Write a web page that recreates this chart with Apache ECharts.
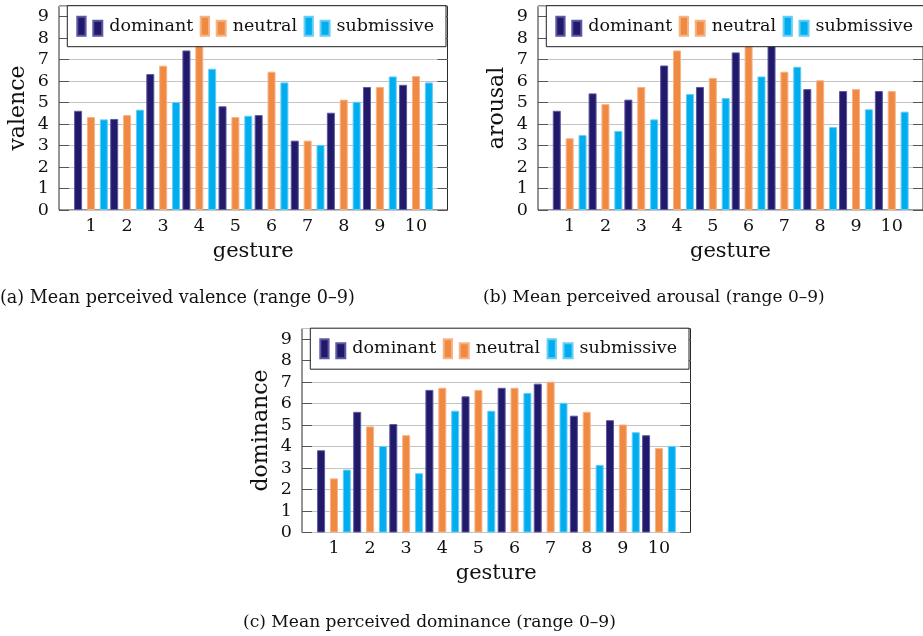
<!DOCTYPE html>
<html>
<head>
<meta charset="utf-8">
<script src="https://cdn.jsdelivr.net/npm/echarts@6/dist/echarts.min.js"></script>
<style>
html,body{margin:0;padding:0;background:#fff;}
#chart{width:923px;height:636px;}
</style>
</head>
<body>
<div id="chart"></div>
<script>
// ---- data ----
const gestures = [1, 2, 3, 4, 5, 6, 7, 8, 9, 10];
const seriesNames = ['dominant', 'neutral', 'submissive'];
const yTicks = [0, 1, 2, 3, 4, 5, 6, 7, 8, 9];

const valenceDominant   = [4.62, 4.24, 6.33, 7.43, 4.83, 4.42, 3.23, 4.53, 5.73, 5.83];
const valenceNeutral    = [4.33, 4.42, 6.72, 7.80, 4.33, 6.44, 3.23, 5.14, 5.73, 6.24];
const valenceSubmissive = [4.22, 4.67, 5.03, 6.58, 4.39, 5.94, 3.03, 5.04, 6.22, 5.94];

const arousalDominant   = [4.62, 5.43, 5.14, 6.73, 5.73, 7.34, 7.80, 5.63, 5.54, 5.54];
const arousalNeutral    = [3.34, 4.93, 5.73, 7.43, 6.15, 7.80, 6.44, 6.04, 5.63, 5.54];
const arousalSubmissive = [3.49, 3.68, 4.22, 5.40, 5.21, 6.22, 6.67, 3.86, 4.69, 4.58];

const dominanceDominant   = [3.83, 5.62, 5.05, 6.64, 6.34, 6.74, 6.93, 5.44, 5.23, 4.53];
const dominanceNeutral    = [2.52, 4.94, 4.53, 6.74, 6.64, 6.74, 7.02, 5.62, 5.03, 3.93];
const dominanceSubmissive = [2.93, 4.03, 2.76, 5.67, 5.67, 6.50, 6.04, 3.15, 4.67, 4.03];

const yLabels = ['valence', 'arousal', 'dominance'];
const captions = [
  '(a) Mean perceived valence (range 0\u20139)',
  '(b) Mean perceived arousal (range 0\u20139)',
  '(c) Mean perceived dominance (range 0\u20139)'
];
// ---- styling ----
const FONT = 'DejaVu Serif';
const colors = ['#211a6b', '#f08a42', '#00aeef'];
const edgeColors = ['#5e58a0', '#f6b385', '#66cdf5'];
const panels = [
  {vals: [valenceDominant, valenceNeutral, valenceSubmissive], left: 59, top: 6},
  {vals: [arousalDominant, arousalNeutral, arousalSubmissive], left: 538, top: 6},
  {vals: [dominanceDominant, dominanceNeutral, dominanceSubmissive], left: 302, top: 328.5}
];
const GW = 388.5, GH = 204;
const captionPos = [{left: 0, top: 289, size: 17.6}, {left: 483, top: 289, size: 17}, {left: 243, top: 614, size: 17.1}];

const grid = [], xAxis = [], yAxis = [], series = [], legend = [], title = [];
panels.forEach((p, i) => {
  grid.push({left: p.left, top: p.top, width: GW, height: GH, show: true,
    borderColor: '#2a2a2a', borderWidth: 1, backgroundColor: 'transparent', containLabel: false});
  xAxis.push({
    type: 'value', gridIndex: i, min: 0.115, max: 10.873,
    name: 'gesture', nameLocation: 'middle', nameGap: 31,
    nameTextStyle: {fontFamily: FONT, fontSize: 21, color: '#111'},
    axisLine: {show: false}, axisTick: {show: false}, splitLine: {show: false},
    axisLabel: {customValues: gestures, fontFamily: FONT, fontSize: 17.5, color: '#111', margin: 7}
  });
  yAxis.push({
    type: 'value', gridIndex: i, position: 'left', min: 0, max: 9.5, interval: 1,
    name: yLabels[i], nameLocation: 'middle', nameGap: 30, nameRotate: 90,
    nameTextStyle: {fontFamily: FONT, fontSize: 22, color: '#111'},
    axisLine: {show: false},
    axisTick: {show: true, inside: true, length: 10, lineStyle: {color: '#555'}},
    axisLabel: {fontFamily: FONT, fontSize: 17.5, color: '#111', margin: 10, showMaxLabel: false},
    splitLine: {show: true, lineStyle: {color: '#c4c4c4', width: 1}}
  });
  yAxis.push({
    type: 'value', gridIndex: i, position: 'right', min: 0, max: 9.5, interval: 1,
    axisLine: {show: false},
    axisTick: {show: true, inside: true, length: 10, lineStyle: {color: '#555'}},
    axisLabel: {show: false}, splitLine: {show: false}
  });
  seriesNames.forEach((nm, k) => {
    series.push({
      type: 'bar', name: nm, xAxisIndex: i, yAxisIndex: 2 * i,
      data: gestures.map((g, j) => [g, p.vals[k][j]]),
      barWidth: 8, barGap: '61%',
      itemStyle: {color: colors[k], borderColor: edgeColors[k], borderWidth: 1},
      emphasis: {disabled: true}
    });
  });
  legend.push({
    data: seriesNames, left: p.left + 8.3, top: p.top - 0.3, width: 460,
    orient: 'horizontal', itemGap: 6.5,
    itemWidth: 25, itemHeight: 19,
    icon: 'path://M0,0H8.3V19H0Z M16,4H25V19H16Z',
    padding: [10, 12, 10, 9],
    backgroundColor: '#fff', borderColor: '#222', borderWidth: 1, borderRadius: 0,
    textStyle: {fontFamily: FONT, fontSize: 17.5, color: '#111', padding: [7, 0, 0, 2]},
    selectedMode: false, z: 10
  });
  title.push({text: captions[i], left: captionPos[i].left, top: captionPos[i].top, padding: 0,
    textStyle: {fontFamily: FONT, fontSize: captionPos[i].size, fontWeight: 'normal', color: '#111'}});
});

const chart = echarts.init(document.getElementById('chart'), null, {renderer: 'canvas'});
chart.setOption({animation: false, backgroundColor: '#fff', title, grid, xAxis, yAxis, series, legend});
</script>
</body>
</html>
